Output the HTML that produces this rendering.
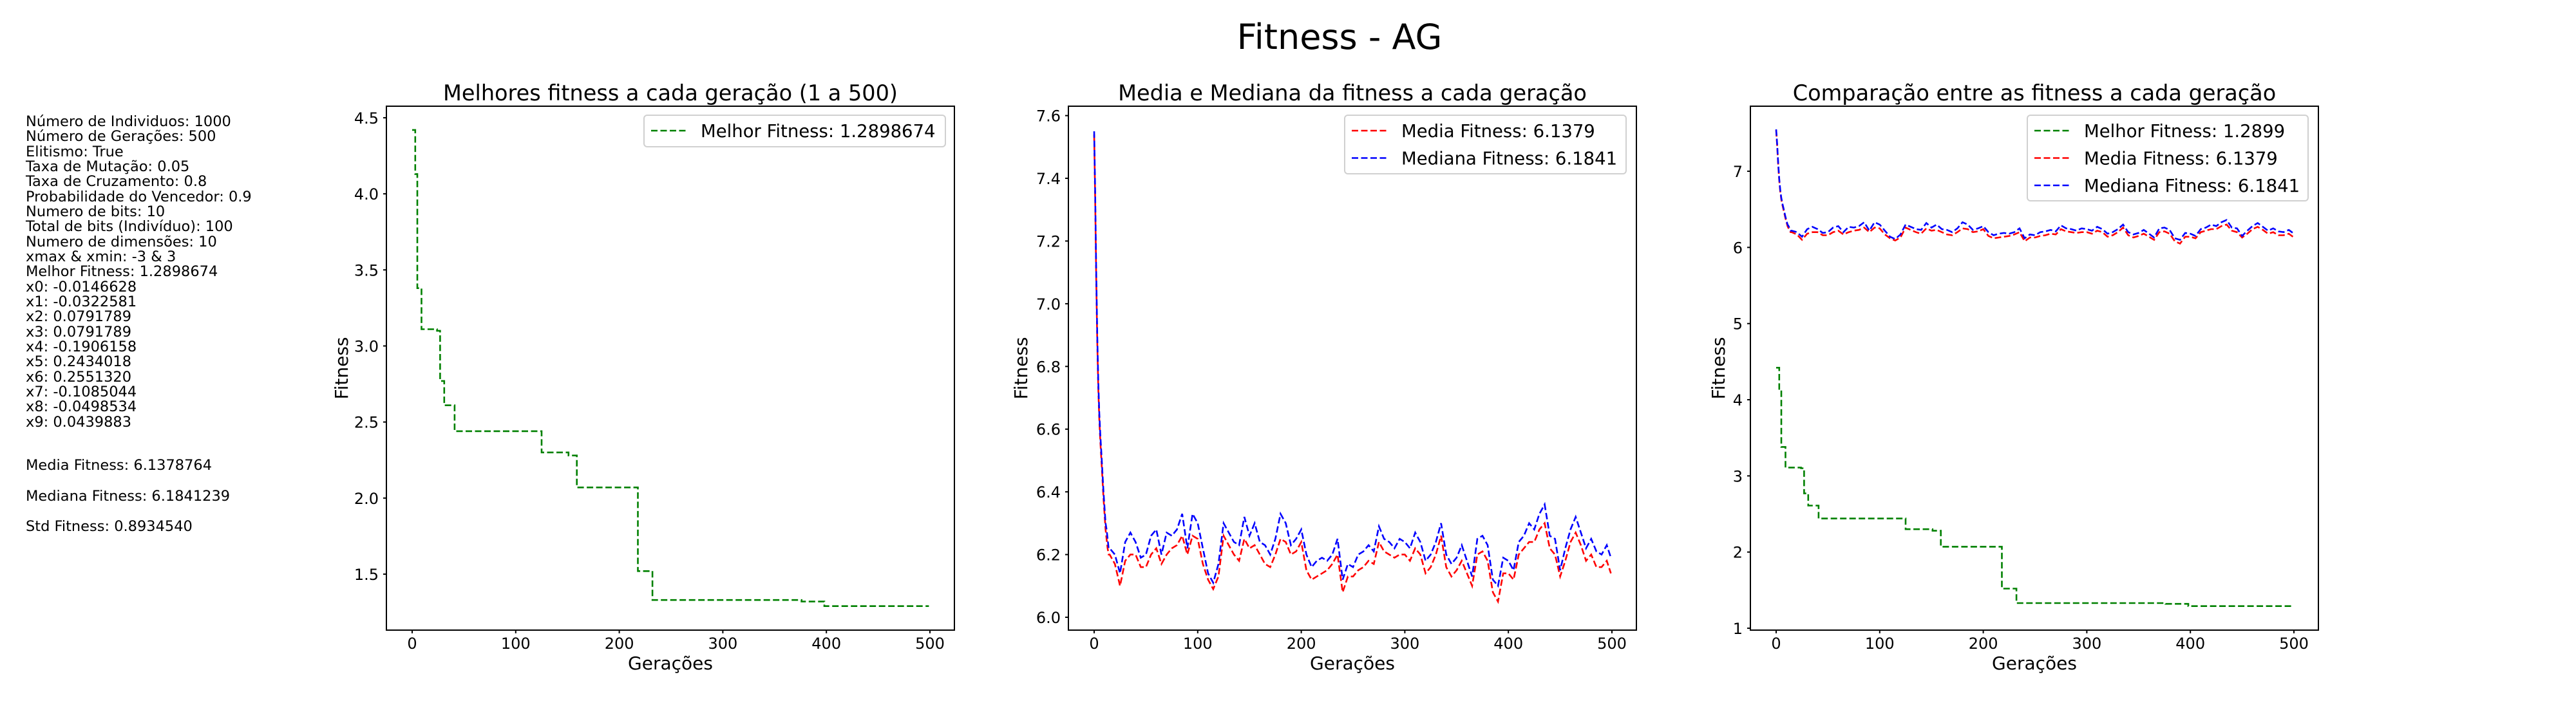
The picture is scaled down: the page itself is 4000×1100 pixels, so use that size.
<!DOCTYPE html>
<html><head><meta charset="utf-8"><style>
html,body{margin:0;padding:0;background:#fff;}
svg{display:block;font-family:"DejaVu Sans","Liberation Sans",sans-serif;}
</style></head><body>
<svg id="fig" width="4000" height="1100" viewBox="0 0 4000 1100" xmlns="http://www.w3.org/2000/svg">
<text x="2080" y="76" font-size="54" text-anchor="middle">Fitness - AG</text>
<g font-size="22.5" fill="#000">
<text x="40" y="196">Número de Individuos: 1000</text>
<text x="40" y="219">Número de Gerações: 500</text>
<text x="40" y="243">Elitismo: True</text>
<text x="40" y="266">Taxa de Mutação: 0.05</text>
<text x="40" y="289">Taxa de Cruzamento: 0.8</text>
<text x="40" y="313">Probabilidade do Vencedor: 0.9</text>
<text x="40" y="336">Numero de bits: 10</text>
<text x="40" y="359">Total de bits (Indivíduo): 100</text>
<text x="40" y="383">Numero de dimensões: 10</text>
<text x="40" y="406">xmax &amp; xmin: -3 &amp; 3</text>
<text x="40" y="429">Melhor Fitness: 1.2898674</text>
<text x="40" y="453">x0: -0.0146628</text>
<text x="40" y="476">x1: -0.0322581</text>
<text x="40" y="499">x2: 0.0791789</text>
<text x="40" y="523">x3: 0.0791789</text>
<text x="40" y="546">x4: -0.1906158</text>
<text x="40" y="569">x5: 0.2434018</text>
<text x="40" y="593">x6: 0.2551320</text>
<text x="40" y="616">x7: -0.1085044</text>
<text x="40" y="639">x8: -0.0498534</text>
<text x="40" y="663">x9: 0.0439883</text>
<text x="40" y="730">Media Fitness: 6.1378764</text>
<text x="40" y="778">Mediana Fitness: 6.1841239</text>
<text x="40" y="825">Std Fitness: 0.8934540</text>
</g>
</svg>
<script>
const stepGens = [0, 3, 5, 9, 24, 27, 31, 41, 125, 151, 159, 218, 232, 376, 398, 499];
const stepVals = [4.42, 4.13, 3.38, 3.11, 3.10, 2.77, 2.61, 2.44, 2.30, 2.28, 2.07, 1.52, 1.33, 1.32, 1.29, 1.29];
const earlyGens = [0,1,2,3,4,5,6,7,8,9,10,11,12,13,14];
const earlyMedian = [7.55,7.35,7.10,6.90,6.75,6.65,6.58,6.52,6.46,6.40,6.35,6.30,6.28,6.25,6.22];
const earlyMean = [7.54,7.33,7.08,6.88,6.73,6.63,6.56,6.50,6.44,6.38,6.33,6.28,6.25,6.22,6.20];
const sampleGens = [15,20,25,30,35,40,45,50,55,60,65,70,75,80,85,90,95,100,105,110,115,120,125,130,135,140,145,150,155,160,165,170,175,180,185,190,195,200,205,210,215,220,225,230,235,240,245,250,255,260,265,270,275,280,285,290,295,300,305,310,315,320,325,330,335,340,345,350,355,360,365,370,375,380,385,390,395,400,405,410,415,420,425,430,435,440,445,450,455,460,465,470,475,480,485,490,495,499];
const medianVals = [6.22,6.20,6.14,6.24,6.27,6.24,6.19,6.20,6.26,6.28,6.20,6.27,6.26,6.28,6.33,6.22,6.33,6.30,6.22,6.14,6.11,6.17,6.30,6.27,6.24,6.23,6.32,6.26,6.30,6.24,6.23,6.20,6.25,6.33,6.30,6.23,6.25,6.28,6.20,6.16,6.18,6.19,6.18,6.20,6.25,6.12,6.17,6.16,6.20,6.21,6.23,6.21,6.29,6.25,6.24,6.22,6.25,6.24,6.22,6.27,6.24,6.18,6.20,6.24,6.30,6.20,6.17,6.19,6.23,6.18,6.13,6.25,6.26,6.23,6.12,6.10,6.19,6.18,6.15,6.24,6.26,6.30,6.28,6.33,6.36,6.26,6.25,6.15,6.22,6.28,6.32,6.27,6.22,6.25,6.21,6.20,6.23,6.19];
const meanVals = [6.20,6.17,6.10,6.18,6.20,6.20,6.16,6.16,6.20,6.22,6.17,6.20,6.22,6.23,6.26,6.20,6.26,6.25,6.17,6.12,6.09,6.13,6.26,6.23,6.20,6.18,6.25,6.22,6.23,6.20,6.17,6.16,6.20,6.25,6.24,6.20,6.21,6.24,6.15,6.12,6.13,6.14,6.15,6.17,6.20,6.08,6.13,6.13,6.15,6.16,6.18,6.17,6.24,6.21,6.20,6.19,6.20,6.20,6.18,6.22,6.20,6.14,6.16,6.20,6.26,6.16,6.13,6.15,6.18,6.14,6.10,6.20,6.21,6.18,6.08,6.05,6.14,6.14,6.12,6.20,6.22,6.24,6.24,6.28,6.30,6.22,6.20,6.13,6.18,6.24,6.27,6.23,6.18,6.20,6.16,6.16,6.18,6.14];
const ticks1 = [1.5,2.0,2.5,3.0,3.5,4.0,4.5];
const ticks2 = [6.0,6.2,6.4,6.6,6.8,7.0,7.2,7.4,7.6];
const ticks3 = [1,2,3,4,5,6,7];
const xTicks = [0,100,200,300,400,500];

const NS='http://www.w3.org/2000/svg';
const svg=document.getElementById('fig');
function mk(tag,attrs,parent){const e=document.createElementNS(NS,tag);for(const k in attrs)e.setAttribute(k,attrs[k]);(parent||svg).appendChild(e);return e;}

const bestGens=[], bestVals=[];
for(let i=0;i<stepGens.length;i++){
  if(i>0){bestGens.push(stepGens[i]);bestVals.push(stepVals[i-1]);}
  bestGens.push(stepGens[i]);bestVals.push(stepVals[i]);
}
const medGens=earlyGens.concat(sampleGens), medAll=earlyMedian.concat(medianVals), meanAll=earlyMean.concat(meanVals);

function axes(cfg){
  const g=mk('g',{});
  
  
  const L=cfg.left,R=cfg.left+882,T=165,B=979;
  const xs=v=>L+40+(v/500)*804;
  const ys=v=>B-(v-cfg.ymin)/(cfg.ymax-cfg.ymin)*(B-T);
  const t=mk('text',{x:(L+R)/2,y:156,'font-size':33.5,'text-anchor':'middle'},g);t.textContent=cfg.title;
  
  
  cfg.series.forEach(s=>{
    let d='';s.x.forEach((xv,i)=>{d+=(i?'L':'M')+xs(xv).toFixed(1)+','+ys(s.y[i]).toFixed(1);});
    const p=mk('path',{d:d,fill:'none',stroke:s.color,'stroke-width':2.6,'stroke-dasharray':'10 4.5'},g);
    
    
  });
  mk('rect',{x:L,y:T,width:R-L,height:B-T,fill:'none',stroke:'#000','stroke-width':2},g);
  xTicks.forEach(v=>{const x=xs(v);mk('line',{x1:x,y1:B,x2:x,y2:B+5,stroke:'#000','stroke-width':2},g);
    const tt=mk('text',{x:x,y:1008,'font-size':24,'text-anchor':'middle'},g);tt.textContent=v;
    
    });
  cfg.ticks.forEach(v=>{const y=ys(v);mk('line',{x1:L-5,y1:y,x2:L,y2:y,stroke:'#000','stroke-width':2},g);
    const tt=mk('text',{x:L-12,y:y+9,'font-size':24,'text-anchor':'end'},g);tt.textContent=cfg.fmt(v);
    
    });
  const xl=mk('text',{x:(L+R)/2,y:1040,'font-size':28,'text-anchor':'middle'},g);xl.textContent='Gerações';
  
  
  const yl=mk('text',{x:0,y:0,'font-size':28,'text-anchor':'middle',transform:'translate('+(cfg.ylx)+',572) rotate(-90)'},g);yl.textContent='Fitness';
  
  
  const lg=mk('g',{},g);
  
  
  const lb=cfg.legend;
  mk('rect',{x:lb.x,y:lb.y,width:lb.w,height:lb.h,rx:5,fill:'#fff',stroke:'#d0d0d0','stroke-width':2},lg);
  lb.items.forEach((it,i)=>{const cy=lb.y+24+i*42.5;
    mk('line',{x1:lb.x+11,y1:cy,x2:lb.x+66,y2:cy,stroke:it.color,'stroke-width':2.6,'stroke-dasharray':'10 4.5'},lg);
    const tx=mk('text',{x:lb.x+88,y:cy+10,'font-size':27.5},lg);tx.textContent=it.label;
    
    });
}
axes({name:'best-fitness-chart',left:600,ymin:1.132,ymax:4.576,ticks:ticks1,fmt:v=>v.toFixed(1),ylx:540,
  title:'Melhores fitness a cada geração (1 a 500)',
  series:[{name:'best-fitness-line',x:bestGens,y:bestVals,color:'#008000'}],
  legend:{x:1000,y:179,w:468,h:49,items:[{label:'Melhor Fitness: 1.2898674',color:'#008000'}]}});
axes({name:'mean-median-chart',left:1659,ymin:5.959,ymax:7.63,ticks:ticks2,fmt:v=>v.toFixed(1),ylx:1595,
  title:'Media e Mediana da fitness a cada geração',
  series:[{name:'mean-fitness-line',x:medGens,y:meanAll,color:'#ff0000'},{name:'median-fitness-line',x:medGens,y:medAll,color:'#0000ff'}],
  legend:{x:2088,y:179,w:437,h:91,items:[{label:'Media Fitness: 6.1379',color:'#ff0000'},{label:'Mediana Fitness: 6.1841',color:'#0000ff'}]}});
axes({name:'comparison-chart',left:2718,ymin:0.975,ymax:7.854,ticks:ticks3,fmt:v=>String(v),ylx:2678,
  title:'Comparação entre as fitness a cada geração',
  series:[{name:'best-fitness-line',x:bestGens,y:bestVals,color:'#008000'},{name:'mean-fitness-line',x:medGens,y:meanAll,color:'#ff0000'},{name:'median-fitness-line',x:medGens,y:medAll,color:'#0000ff'}],
  legend:{x:3148,y:179,w:436,h:133,items:[{label:'Melhor Fitness: 1.2899',color:'#008000'},{label:'Media Fitness: 6.1379',color:'#ff0000'},{label:'Mediana Fitness: 6.1841',color:'#0000ff'}]}});
</script>
</body></html>
